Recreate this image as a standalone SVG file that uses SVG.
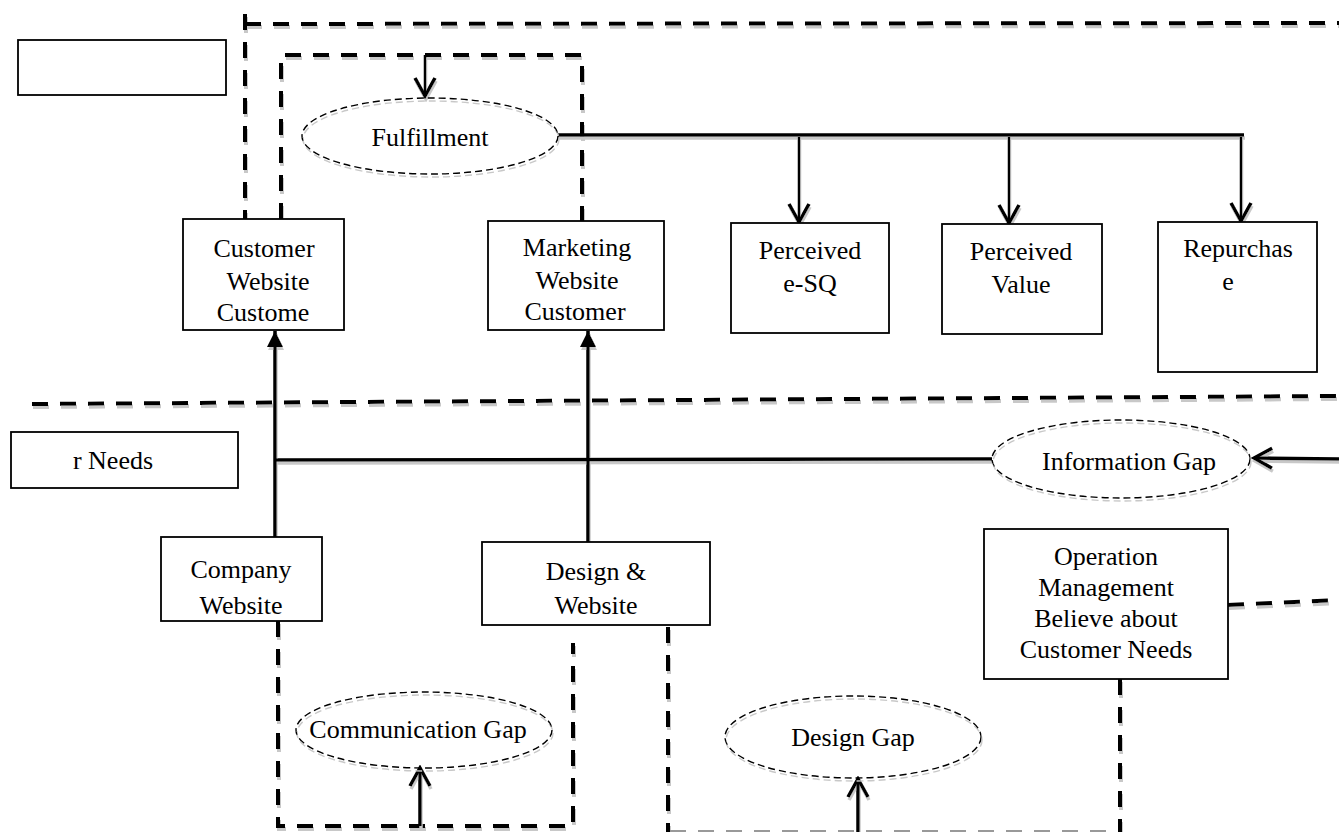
<svg xmlns="http://www.w3.org/2000/svg" width="1339" height="832" viewBox="0 0 1339 832">
<defs>
<style>
.box{fill:#fff;stroke:#000;stroke-width:1.8}
.ell{fill:none;stroke:#000;stroke-width:1.4;stroke-dasharray:7 4}
.t{font-family:"Liberation Serif","Times New Roman",serif;font-size:26px;fill:#000;text-anchor:middle}
.dash{fill:none;stroke:#000;stroke-width:4;stroke-dasharray:16 12}
.solid{fill:none;stroke:#000;stroke-width:3.5}
.thin{fill:none;stroke:#000;stroke-width:2.5}
</style>
<filter id="sh" filterUnits="userSpaceOnUse" x="0" y="0" width="1339" height="840">
<feOffset in="SourceAlpha" dx="1" dy="3" result="o"/>
<feFlood flood-color="#c8c8c8"/>
<feComposite in2="o" operator="in" result="s"/>
<feMerge><feMergeNode in="s"/><feMergeNode in="SourceGraphic"/></feMerge>
</filter>
<marker id="open" markerUnits="userSpaceOnUse" viewBox="0 0 24 24" refX="21" refY="12" markerWidth="24" markerHeight="24" orient="auto">
<path d="M3,2 L21,12 L3,22" fill="none" stroke="#000" stroke-width="3.5"/>
</marker>
<marker id="tri" markerUnits="userSpaceOnUse" viewBox="0 0 16 16" refX="16" refY="8" markerWidth="16" markerHeight="16" orient="auto">
<path d="M0,0 L16,8 L0,16 Z" fill="#000"/>
</marker>
</defs>
<rect width="1339" height="832" fill="#fff"/>

<g id="boundaries" filter="url(#sh)">
<line class="dash" x1="245" y1="14" x2="245" y2="219"/>
<line class="dash" x1="245" y1="24" x2="1339" y2="23"/>
<path class="dash" d="M281,219 V55 H582 V221"/>
<line class="dash" x1="32" y1="404" x2="1339" y2="396"/>
<line class="dash" x1="1228" y1="605" x2="1339" y2="600"/>
<path class="dash" d="M278,621 V826 H573 V643"/>
<line class="dash" x1="668" y1="627" x2="668" y2="832"/>
<line class="dash" x1="1120" y1="679" x2="1120" y2="832"/>
<line x1="670" y1="831" x2="1118" y2="831" stroke="#999" stroke-width="2" stroke-dasharray="16 12"/>
</g>

<g id="connectors" filter="url(#sh)">
<line class="solid" x1="558" y1="135" x2="1244" y2="135"/>
<line class="thin" x1="799" y1="137" x2="799" y2="222" marker-end="url(#open)"/>
<line class="thin" x1="1009" y1="137" x2="1009" y2="223" marker-end="url(#open)"/>
<line class="thin" x1="1241" y1="137" x2="1241" y2="221" marker-end="url(#open)"/>
<line class="thin" x1="425" y1="55" x2="425" y2="96" marker-end="url(#open)"/>
<line class="solid" x1="275" y1="537" x2="275" y2="331" marker-end="url(#tri)"/>
<line class="solid" x1="588" y1="542" x2="588" y2="331" marker-end="url(#tri)"/>
<line class="solid" x1="275" y1="460" x2="992" y2="459"/>
<line class="solid" x1="1339" y1="459" x2="1254" y2="458" marker-end="url(#open)"/>
<line class="solid" x1="420" y1="826" x2="420" y2="768" marker-end="url(#open)"/>
<line class="solid" x1="858" y1="832" x2="858" y2="779" marker-end="url(#open)"/>
</g>

<g id="node-blank">
<rect class="box" x="18" y="40" width="208" height="55"/>
</g>
<g id="node-fulfillment">
<ellipse class="ell" cx="430" cy="136" rx="128" ry="38" filter="url(#sh)"/>
<text class="t" x="430" y="146">Fulfillment</text>
</g>
<g id="node-customer">
<rect class="box" x="183" y="219" width="161" height="111"/>
<text class="t" x="264" y="257">Customer</text>
<text class="t" x="268" y="290">Website</text>
<text class="t" x="263" y="321">Custome</text>
</g>
<g id="node-marketing">
<rect class="box" x="488" y="221" width="176" height="109"/>
<text class="t" x="577" y="256">Marketing</text>
<text class="t" x="577" y="289">Website</text>
<text class="t" x="575" y="320">Customer</text>
</g>
<g id="node-esq">
<rect class="box" x="731" y="223" width="158" height="110"/>
<text class="t" x="810" y="259">Perceived</text>
<text class="t" x="810" y="292">e-SQ</text>
</g>
<g id="node-value">
<rect class="box" x="942" y="224" width="160" height="110"/>
<text class="t" x="1021" y="260">Perceived</text>
<text class="t" x="1021" y="293">Value</text>
</g>
<g id="node-repurchase">
<rect class="box" x="1158" y="222" width="159" height="150"/>
<text class="t" x="1238" y="257">Repurchas</text>
<text class="t" x="1228" y="290">e</text>
</g>
<g id="node-needs">
<rect class="box" x="11" y="432" width="227" height="56"/>
<text class="t" x="113" y="469">r Needs</text>
</g>
<g id="node-infogap">
<ellipse class="ell" cx="1121" cy="459" rx="129" ry="39" filter="url(#sh)"/>
<text class="t" x="1129" y="470">Information Gap</text>
</g>
<g id="node-company">
<rect class="box" x="161" y="537" width="161" height="84"/>
<text class="t" x="241" y="578">Company</text>
<text class="t" x="241" y="614">Website</text>
</g>
<g id="node-design">
<rect class="box" x="482" y="542" width="228" height="83"/>
<text class="t" x="596" y="580">Design &amp;</text>
<text class="t" x="596" y="614">Website</text>
</g>
<g id="node-operation">
<rect class="box" x="984" y="529" width="244" height="150"/>
<text class="t" x="1106" y="565">Operation</text>
<text class="t" x="1106" y="596">Management</text>
<text class="t" x="1106" y="627">Believe about</text>
<text class="t" x="1106" y="658">Customer Needs</text>
</g>
<g id="node-commgap">
<ellipse class="ell" cx="424" cy="730" rx="128" ry="38" filter="url(#sh)"/>
<text class="t" x="418" y="738">Communication Gap</text>
</g>
<g id="node-designgap">
<ellipse class="ell" cx="853" cy="737" rx="128" ry="41" filter="url(#sh)"/>
<text class="t" x="853" y="746">Design Gap</text>
</g>
</svg>
